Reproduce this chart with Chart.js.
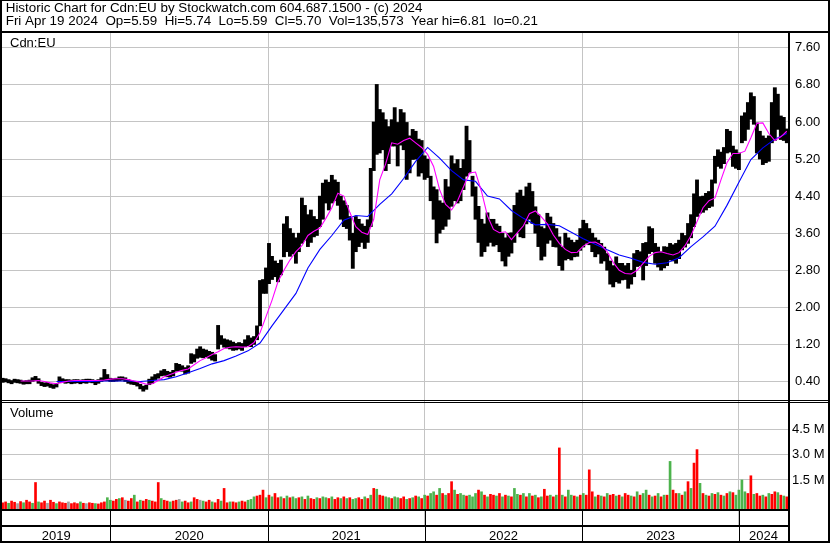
<!DOCTYPE html>
<html lang="en">
<head>
<meta charset="UTF-8">
<title>Historic Chart for Cdn:EU</title>
<script src="https://cdn.jsdelivr.net/npm/chart.js@4.4.1/dist/chart.umd.min.js"></script>
<style>
  html, body { margin: 0; padding: 0; background: #fff; }
</style>
</head>
<body>
<canvas id="myChart" width="830" height="543"></canvas>
<script>
// weekly bars, week 0 = late Apr 2019 ... week 262 = Apr 19 2024
const yearLabels = ['2019', '2020', '2021', '2022', '2023', '2024'];
const yearStarts = [36, 88.67, 141, 193.67, 246];   // week index where each year begins
const priceTicks = [0.4, 0.8, 1.2, 1.6, 2.0, 2.4, 2.8, 3.2, 3.6, 4.0, 4.4, 4.8, 5.2, 5.6, 6.0, 6.4, 6.8, 7.2, 7.6];
const volTicks = [1.5, 3.0, 4.5];   // millions

const weekHigh = [
  .47,.46,.44,.42,.45,.44,.43,.41,.42,.43,
  .48,.51,.46,.38,.37,.38,.35,.33,.36,.50,
  .46,.44,.44,.43,.44,.44,.43,.44,.45,.45,
  .44,.42,.44,.48,.66,.55,.47,.46,.47,.50,
  .50,.48,.44,.42,.40,.38,.34,.30,.32,.45,
  .50,.55,.57,.63,.66,.62,.60,.64,.79,.77,
  .74,.70,.74,1.00,.98,1.10,1.15,1.10,1.08,1.05,
  1.03,.98,1.61,1.39,1.32,1.30,1.28,1.25,1.22,1.24,
  1.22,1.30,1.39,1.34,1.37,1.60,2.58,2.60,2.85,3.38,
  3.10,3.00,2.95,3.02,3.80,3.96,3.70,3.60,3.50,3.60,
  4.36,4.20,4.00,4.10,3.96,3.90,4.40,4.68,4.75,4.70,
  4.85,4.75,4.70,4.40,4.30,4.20,3.96,3.60,3.96,3.90,
  3.80,3.75,3.89,5.00,6.00,6.81,6.27,6.20,6.05,5.90,
  6.05,6.31,5.99,6.27,6.20,5.99,5.70,5.84,5.80,5.63,
  5.60,5.27,5.20,4.83,4.60,4.54,4.30,4.25,4.76,4.60,
  5.27,5.10,5.19,5.00,5.19,5.91,5.60,4.83,4.60,4.18,
  3.90,3.80,4.04,3.90,3.90,3.80,3.75,3.60,3.50,3.60,
  3.61,4.20,4.47,4.53,4.40,4.60,4.68,4.50,4.17,4.00,
  3.74,3.70,4.03,3.95,3.81,3.70,3.52,3.30,3.60,3.50,
  3.45,3.40,3.45,3.70,3.88,3.81,3.70,3.60,3.50,3.45,
  3.38,3.30,3.16,3.00,2.90,3.09,2.95,2.95,2.90,2.95,
  2.80,3.16,3.23,3.20,3.38,3.40,3.74,3.70,3.38,3.30,
  3.20,3.31,3.30,3.38,3.35,3.38,3.45,3.60,3.55,3.81,
  4.00,4.45,4.75,4.39,4.40,4.46,4.50,4.75,5.26,5.40,
  5.35,5.45,5.84,5.80,5.48,5.40,5.33,6.13,6.20,6.42,
  6.63,6.55,5.98,5.80,5.70,5.65,5.70,6.42,6.74,6.60,
  6.13,6.10,5.85
];
const weekLow = [
  .38,.39,.37,.35,.38,.37,.36,.34,.35,.35,
  .40,.42,.36,.31,.29,.30,.27,.25,.28,.38,
  .38,.36,.37,.35,.36,.37,.35,.37,.36,.38,
  .37,.33,.36,.40,.42,.42,.40,.40,.41,.42,
  .43,.40,.36,.34,.33,.30,.24,.19,.23,.33,
  .36,.44,.47,.52,.53,.50,.49,.52,.62,.63,
  .62,.56,.58,.79,.82,.90,.92,.91,.93,.90,
  .86,.84,1.10,1.20,1.14,1.12,1.10,1.07,1.08,1.10,
  1.07,1.15,1.17,1.15,1.20,1.30,1.60,2.30,2.30,2.51,
  2.60,2.66,2.55,2.70,3.09,3.20,3.10,3.15,2.95,3.20,
  3.38,3.45,3.31,3.40,3.52,3.55,3.74,3.90,4.25,4.10,
  4.25,4.30,4.20,3.90,3.74,3.70,3.45,2.84,3.20,3.31,
  3.40,3.27,3.40,3.74,4.95,5.30,5.33,5.40,4.95,5.10,
  5.48,5.48,5.05,5.50,5.40,4.76,4.90,5.19,5.20,4.83,
  4.90,4.76,4.80,4.30,3.90,3.39,3.60,3.68,3.75,3.90,
  4.18,4.30,4.25,4.30,4.54,4.83,4.90,4.40,3.90,3.40,
  3.10,3.20,3.32,3.40,3.32,3.35,3.20,3.00,2.89,3.10,
  3.17,3.40,3.61,3.52,3.50,3.80,3.90,3.81,3.60,3.31,
  3.02,3.10,3.38,3.45,3.31,3.30,2.90,2.80,3.02,3.05,
  3.02,3.09,3.10,3.23,3.30,3.38,3.35,3.20,3.09,3.15,
  2.95,3.00,2.80,2.50,2.44,2.55,2.52,2.59,2.60,2.41,
  2.50,2.66,2.88,2.90,2.59,2.90,3.16,3.20,2.95,2.87,
  2.80,2.85,2.90,3.02,3.00,2.95,3.05,3.24,3.30,3.38,
  3.50,3.74,3.96,4.03,4.05,4.10,4.15,4.18,4.68,5.04,
  5.00,5.10,5.33,5.35,5.04,5.00,4.97,5.55,5.60,5.84,
  6.06,5.95,5.33,5.20,5.08,5.12,5.15,5.55,5.60,5.84,
  5.62,5.60,5.55
];

// weekly volume peak, millions of shares
const weekVol = [
  .15,.2,.12,.25,.18,.1,.22,.15,.3,.2,.12,1.35,
  .2,.15,.25,.12,.3,.18,.1,.2,.15,.12,.2,.1,
  .15,.1,.2,.12,.1,.15,.12,.1,.08,.15,.2,.45,
  .3,.25,.35,.4,.45,.3,.25,.4,.6,.2,.3,.25,
  .35,.3,.25,.2,1.35,.4,.3,.25,.2,.25,.3,.35,
  .2,.25,.15,.2,.45,.35,.3,.25,.2,.3,.2,.15,
  .35,.25,1.0,.15,.2,.2,.15,.2,.25,.2,.3,.35,
  .5,.55,.6,.9,.45,.6,.5,.7,.45,.5,.4,.55,
  .45,.5,.4,.45,.5,.35,.55,.4,.35,.45,.4,.5,
  .45,.4,.5,.35,.45,.4,.5,.4,.45,.35,.4,.45,
  .35,.5,.4,.6,1.0,.95,.6,.55,.5,.45,.4,.5,
  .45,.4,.5,.35,.4,.45,.55,.5,.4,.6,.55,.7,
  .8,.6,1.0,.7,.6,.7,1.4,.9,.65,.7,.6,.55,
  .6,.5,.7,.9,.8,.6,.5,.65,.6,.55,.7,.5,
  .6,.55,.5,1.0,.65,.6,.7,.5,.7,.55,.6,.45,
  .5,.95,.55,.6,.5,.6,3.4,.6,.5,.9,.6,.55,
  .5,.6,.7,.6,2.1,.8,.5,.6,.55,.5,.7,.6,
  .65,.55,.6,.5,.7,.6,.55,.5,.8,.6,.7,.9,
  .6,.5,.55,.7,.5,.6,.6,2.6,.9,.7,.7,.6,
  .8,1.4,1.0,2.5,3.3,1.3,.7,.6,.55,.7,.65,.75,
  .6,.55,.7,.8,.75,.6,.9,1.5,.8,.7,1.75,.65,
  .7,.55,.6,.5,.7,.65,.8,.75,.6,.55,.5
];
// r = down, g = up, n = unchanged
const volDir = [
  'rrgrrnrgrrgr', 'grrnrrgrrrnr', 'rrgrnrrgrrrg', 'grrgrnrrgrgr',
  'rgrrrgrrgrrn', 'grrgrrngrrgr', 'rgrrgrrgrrgg', 'grrrgrgrrgrg',
  'rggrgrgrrgrg', 'grgrrgrgrggr', 'rgrgrgrrggrg', 'grrgrgrgrgrg',
  'grgrgrrgrggr', 'gggrgrgrrgrg', 'rgrggrgrgrgr', 'grrgrgrgrggr',
  'grgrrrgrgrgr', 'rgrgrrgrgrgg', 'rgrgrgrgrrgr', 'grgrrgrgrgrg',
  'rgrgrggggrrg', 'rrgrgrrgrgr'
].join('');

// short moving average (magenta), read every 2 weeks from week 6
const maShortStart = 6, maShortStep = 2;
const maShort = [
  .41,.41,.41,.42,.40,.37,.35,.38,.41,.42,
  .42,.42,.42,.42,.43,.45,.46,.46,.44,.41,
  .38,.34,.35,.42,.50,.55,.60,.64,.67,.76,
  .85,.91,.98,1.04,1.11,1.14,1.15,1.14,1.15,1.24,
  1.45,1.80,2.15,2.55,2.80,3.02,3.20,3.33,3.55,3.64,
  3.71,3.92,4.15,4.46,4.40,4.05,3.74,3.62,3.57,3.90,
  4.75,5.10,5.55,5.52,5.60,5.65,5.55,5.45,5.30,5.04,
  4.54,4.22,4.10,4.30,4.60,4.90,4.92,4.50,3.97,3.68,
  3.61,3.63,3.46,3.61,3.76,4.02,4.08,3.95,3.80,3.56,
  3.38,3.25,3.18,3.19,3.32,3.40,3.41,3.34,3.20,2.97,
  2.80,2.73,2.72,2.80,2.95,3.10,3.18,3.20,3.16,3.13,
  3.18,3.33,3.55,3.85,4.15,4.30,4.36,4.75,5.12,5.32,
  5.32,5.37,5.66,5.97,5.98,5.75,5.60,5.68,5.80
];
// long moving average (blue), read every 4 weeks from week 18
const maLongStart = 18, maLongStep = 4;
const maLong = [
  .40,.40,.40,.40,.41,.41,.41,.40,.42,.44,
  .50,.59,.68,.78,.85,.95,1.06,1.23,1.60,1.95,
  2.30,2.85,3.25,3.55,3.88,3.98,3.96,4.22,4.45,4.78,
  5.15,5.45,5.22,4.95,4.75,4.72,4.40,4.34,4.09,3.92,
  3.78,3.79,3.76,3.62,3.48,3.36,3.24,3.13,3.06,2.97,
  2.93,2.96,3.07,3.31,3.52,3.75,4.20,4.70,5.19,5.44,
  5.63,5.75
];

if (weekLow.length !== weekHigh.length || weekVol.length !== weekHigh.length || volDir.length !== weekHigh.length) {
  throw new Error('length mismatch ' + weekHigh.length + ' ' + weekLow.length + ' ' + weekVol.length + ' ' + volDir.length);
}

const FONT = "'Liberation Sans', Arial, sans-serif";
const X_MIN = -0.2, X_MAX = 262.4;
const VOL_MIN = -0.22, VOL_MAX = 6.24;
const dirColor = { r: '#ff0000', g: '#4db34d', n: '#a0a0a0' };
const gridGray = '#c4c4c4';

const yearCenters = yearLabels.map((_, i) => {
  const a = i === 0 ? X_MIN : yearStarts[i - 1];
  const b = i === yearLabels.length - 1 ? X_MAX : yearStarts[i];
  return (a + b) / 2;
});

// frame lines and panel captions
const framePlugin = {
  id: 'frame',
  afterDraw(chart) {
    const ctx = chart.ctx;
    const W = chart.width, H = chart.height;
    const area = chart.chartArea;
    const sp = chart.scales.y, sv = chart.scales.yv, ss = chart.scales.ys, sx = chart.scales.x;
    ctx.save();
    ctx.fillStyle = '#000';
    // under the title
    ctx.fillRect(0, area.top - 2, W, 2);
    // price / volume double line
    ctx.fillRect(0, Math.round(sp.bottom), W, 1);
    ctx.fillRect(0, Math.round(sp.bottom) + 2, W, 1);
    // volume bottom and strip bottom
    ctx.fillRect(0, Math.round(sv.bottom), area.right, 2);
    ctx.fillRect(0, Math.round(ss.bottom) - 1, area.right, 2);
    // year separators in the strip and label row
    yearStarts.forEach(v => {
      const px = Math.round(sx.getPixelForValue(v));
      ctx.fillRect(px, Math.round(ss.top), 1, H - Math.round(ss.top));
    });
    // right axis line
    ctx.fillRect(area.right, area.top, 2, H - area.top);
    // outer border
    ctx.fillRect(0, 0, W, 1);
    ctx.fillRect(0, 0, 2, H);
    ctx.fillRect(W - 2, 0, 2, H);
    ctx.fillRect(0, H - 2, W, 2);
    // captions
    ctx.font = '13px ' + FONT;
    ctx.textBaseline = 'middle';
    ctx.textAlign = 'left';
    ctx.fillText('Cdn:EU', area.left + 8, sp.top + 10);
    ctx.fillText('Volume', area.left + 8, sv.top + 13);
    ctx.restore();
  }
};

const fixWidth = s => { s.width = 40; };

const ctx = document.getElementById('myChart').getContext('2d');
const myChart = new Chart(ctx, {
  type: 'bar',
  data: {
    datasets: [
      {
        type: 'line',
        label: 'Short MA',
        data: maShort.map((v, i) => ({ x: maShortStart + i * maShortStep, y: v })),
        borderColor: '#ff00ff',
        borderWidth: 1.1,
        pointRadius: 0,
        yAxisID: 'y',
        order: 0
      },
      {
        type: 'line',
        label: 'Long MA',
        data: maLong.map((v, i) => ({ x: maLongStart + i * maLongStep, y: v })),
        borderColor: '#0000ff',
        borderWidth: 1.1,
        pointRadius: 0,
        yAxisID: 'y',
        order: 0
      },
      {
        label: 'Price',
        data: weekHigh.map((h, i) => ({ x: i, y: [weekLow[i], h] })),
        backgroundColor: '#000',
        barThickness: 3.2,
        grouped: false,
        yAxisID: 'y',
        order: 1
      },
      {
        label: 'Volume',
        data: weekVol.map((v, i) => ({ x: i, y: v })),
        backgroundColor: weekVol.map((v, i) => dirColor[volDir[i]]),
        barThickness: 2,
        grouped: false,
        base: VOL_MIN,
        yAxisID: 'yv',
        order: 1
      }
    ]
  },
  options: {
    responsive: false,
    animation: false,
    devicePixelRatio: 1,
    layout: { padding: { left: 2, right: 2, top: 0, bottom: 2 } },
    plugins: {
      legend: { display: false },
      tooltip: { enabled: false },
      title: {
        display: true,
        align: 'start',
        color: '#000',
        font: { family: FONT, size: 13.4, weight: 'normal', lineHeight: 0.97 },
        padding: { top: 2, bottom: 5 },
        text: [
          ' Historic Chart for Cdn:EU by Stockwatch.com 604.687.1500 - (c) 2024',
          ' Fri Apr 19 2024  Op=5.59  Hi=5.74  Lo=5.59  Cl=5.70  Vol=135,573  Year hi=6.81  lo=0.21'
        ]
      }
    },
    scales: {
      x: {
        type: 'linear',
        position: 'bottom',
        min: X_MIN,
        max: X_MAX,
        offset: false,
        border: { display: false },
        grid: {
          offset: false,
          drawTicks: false,
          lineWidth: 1,
          color: c => (c.tick && yearStarts.includes(c.tick.value)) ? gridGray : 'rgba(0,0,0,0)'
        },
        afterBuildTicks: s => {
          s.ticks = yearStarts.map(v => ({ value: v })).concat(yearCenters.map(v => ({ value: v })));
        },
        ticks: {
          autoSkip: false,
          maxRotation: 0,
          padding: 3,
          color: '#000',
          font: { family: FONT, size: 13 },
          callback: v => {
            const k = yearCenters.indexOf(v);
            return k >= 0 ? yearLabels[k] : '';
          }
        },
        afterFit: s => { s.height = 15; }
      },
      y: {
        type: 'linear',
        position: 'right',
        stack: 'panels',
        stackWeight: 367,
        min: 0,
        max: 7.92,
        border: { display: false },
        grid: { color: gridGray, drawTicks: false },
        afterBuildTicks: s => { s.ticks = priceTicks.map(v => ({ value: v })); },
        ticks: {
          padding: 7,
          color: '#000',
          font: { family: FONT, size: 13 },
          callback: v => v.toFixed(2)
        },
        afterFit: fixWidth
      },
      yv: {
        type: 'linear',
        position: 'right',
        stack: 'panels',
        stackWeight: 109,
        min: VOL_MIN,
        max: VOL_MAX,
        border: { display: false },
        grid: { color: gridGray, drawTicks: false },
        afterBuildTicks: s => { s.ticks = volTicks.map(v => ({ value: v })); },
        ticks: {
          padding: 4,
          color: '#000',
          font: { family: FONT, size: 13 },
          callback: v => v.toFixed(1) + ' M'
        },
        afterFit: fixWidth
      },
      ys: {
        type: 'linear',
        position: 'right',
        stack: 'panels',
        stackWeight: 17,
        min: 0,
        max: 1,
        border: { display: false },
        grid: { display: false },
        ticks: { display: false },
        afterFit: fixWidth
      }
    }
  },
  plugins: [framePlugin]
});
</script>
</body>
</html>
